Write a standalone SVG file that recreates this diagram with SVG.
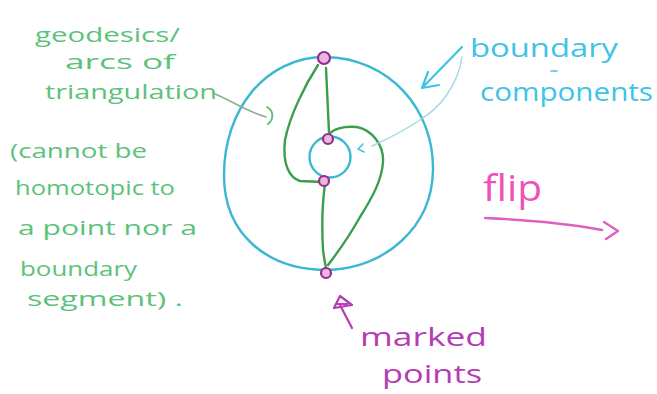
<svg xmlns="http://www.w3.org/2000/svg" width="657" height="394" viewBox="0 0 657 394">
<style>
.g{fill:#5cc27a;font-family:"Open Sans","Liberation Sans",sans-serif;font-size:20px}
.c{fill:#3fc3e6;font-family:"Open Sans","Liberation Sans",sans-serif;font-size:25px}
.m{fill:#b43cb4;font-family:"Open Sans","Liberation Sans",sans-serif;font-size:26px}
.p{fill:#f050b8;font-family:"Open Sans","Liberation Sans",sans-serif;font-size:36px}
.bd{fill:none;stroke:#3ab8d2;stroke-width:2.4;stroke-linecap:round}
.arc{fill:none;stroke:#3a9e4c;stroke-width:2.4;stroke-linecap:round;stroke-linejoin:round}
.pt{fill:#e6b8e0;stroke:#9a2a8c;stroke-width:2.2}
.ln{fill:none;stroke-linecap:round;stroke-linejoin:round}
</style>
<rect width="657" height="394" fill="#ffffff"/>
<g id="surface">
<path class="bd" d="M325,57 C390,58 434,110 433,170 C432,228 385,268 327,270 C268,270 224,235 224,175 C224,110 265,57 325,57 Z"/>
<circle class="bd" cx="330" cy="157" r="20.5"/>
</g>
<g id="connectors">
<path class="arc" d="M326,68 L329,132"/>
<path class="arc" d="M318,65 C305,85 290,115 285,140 C282,165 290,178 300,181 L323,182"/>
<path class="arc" d="M330,133 C336,128 345,126 357,127 C372,130 384,145 383,162 C382,180 372,198 360,217 C350,235 338,252 328,265"/>
<path class="arc" d="M325,184 C322,205 322,232 323,250 C324,258 325,263 326,268"/>
<path class="ln" stroke="#8fae8f" stroke-width="1.6" d="M213,93 C230,100 248,112 266,117"/>
<path class="ln" stroke="#5cc27a" stroke-width="2" d="M267,107 C274,111 274,119 268,124"/>
<path class="ln" stroke="#3fc3e6" stroke-width="2.2" d="M462,47 L422,88 M428,72 L422,88 L439,85"/>
<path class="ln" stroke="#9ed8e6" stroke-width="1.4" d="M462,57 C458,85 440,108 420,120 C405,130 390,138 372,146"/>
<path class="ln" stroke="#3fc3e6" stroke-width="1.6" d="M363,144 L358,149 L364,152"/>
<path class="ln" stroke="#3fc3e6" stroke-width="1.6" d="M551,71 L557,71"/>
<path class="ln" stroke="#e060c0" stroke-width="2.4" d="M485,218 C530,220 570,224 602,230 M604,222 L618,231 L606,239"/>
<path class="ln" stroke="#b43cb4" stroke-width="2.2" d="M352,328 L340,305 M334,308 L340,296 L352,305 Z M337,304 L347,304"/>
</g>
<g id="marked-points">
<circle class="pt" cx="324" cy="58" r="6"/>
<circle class="pt" cx="328" cy="139" r="5"/>
<circle class="pt" cx="324" cy="181" r="5"/>
<circle class="pt" cx="326" cy="273" r="5"/>
</g>
<g id="label-geodesics">
<text class="g" x="35" y="42" textLength="145" lengthAdjust="spacingAndGlyphs">geodesics/</text>
<text class="g" x="65" y="69" textLength="110" lengthAdjust="spacingAndGlyphs">arcs of</text>
<text class="g" x="45" y="99" textLength="172" lengthAdjust="spacingAndGlyphs">triangulation</text>
</g>
<g id="label-note">
<text class="g" x="10" y="158" textLength="137" lengthAdjust="spacingAndGlyphs">(cannot be</text>
<text class="g" x="15" y="195" textLength="160" lengthAdjust="spacingAndGlyphs">homotopic to</text>
<text class="g" x="18" y="235" textLength="179" lengthAdjust="spacingAndGlyphs">a point nor a</text>
<text class="g" x="20" y="276" textLength="117" lengthAdjust="spacingAndGlyphs">boundary</text>
<text class="g" x="27" y="306" textLength="156" lengthAdjust="spacingAndGlyphs">segment) .</text>
</g>
<g id="label-boundary">
<text class="c" x="470" y="57" textLength="148" lengthAdjust="spacingAndGlyphs">boundary</text>
<text class="c" x="480" y="101" textLength="173" lengthAdjust="spacingAndGlyphs">components</text>
</g>
<g id="label-flip">
<text class="p" x="483" y="201" textLength="59" lengthAdjust="spacingAndGlyphs">flip</text>
</g>
<g id="label-marked">
<text class="m" x="360" y="346" textLength="127" lengthAdjust="spacingAndGlyphs">marked</text>
<text class="m" x="382" y="383" textLength="100" lengthAdjust="spacingAndGlyphs">points</text>
</g>
</svg>
